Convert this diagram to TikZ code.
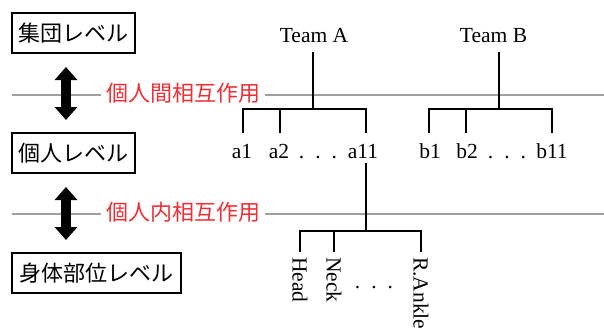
\documentclass[tikz,border=0pt]{standalone}
\usepackage{fontspec}
\setmainfont{Liberation Serif}
\newfontfamily\jp{Noto Sans CJK JP}
\usetikzlibrary{arrows.meta}
\definecolor{redtxt}{RGB}{238,48,52}
\definecolor{sepgray}{RGB}{160,160,160}
\newcommand{\tdots}{.\hspace{11pt}.\hspace{11pt}.}
\begin{document}
\begin{tikzpicture}[x=1pt,y=-1pt,
 lvl/.style={draw=black,line width=1.8pt,minimum height=40pt,inner sep=0pt,font=\jp\fontsize{22}{22}\selectfont},
 sepline/.style={draw=sepgray,line width=1.8pt},
 inter/.style={fill=white,text=redtxt,inner sep=5pt,font=\jp\fontsize{22}{22}\selectfont},
 tree/.style={line width=2.5pt},
 lab/.style={font=\fontsize{21.5}{21.5}\selectfont,anchor=base,inner sep=0pt},
 dbl/.style={line width=10pt,{Triangle[length=13pt,width=22pt]}-{Triangle[length=13pt,width=22pt]}},
 body/.style={font=\fontsize{21.5}{21.5}\selectfont,rotate=-90,anchor=west,inner sep=0pt}]
\useasboundingbox (0,0) rectangle (604,330);

% separator lines
\coordinate (s1l) at (12,95); \coordinate (s1r) at (604,95);
\coordinate (s2l) at (12,214); \coordinate (s2r) at (604,214);
\draw[sepline] (s1l) -- (s1r);
\draw[sepline] (s2l) -- (s2r);

% level boxes
\node[lvl,minimum width=123pt] (lg) at (73.5,33) {集団レベル};
\node[lvl,minimum width=123pt] (li) at (73.5,153) {個人レベル};
\node[lvl,minimum width=169pt] (lb) at (96.5,273) {身体部位レベル};

% double arrows
\coordinate (d1t) at (66,67); \coordinate (d1b) at (66,120);
\coordinate (d2t) at (66,187); \coordinate (d2b) at (66,240);
\draw[dbl] (d1t) -- (d1b);
\draw[dbl] (d2t) -- (d2b);

% interaction labels
\node[inter] (i1) at (183,93) {個人間相互作用};
\node[inter] (i2) at (183,212) {個人内相互作用};

% teams
\node[lab] (TA) at (314,42) {Team A};
\node[lab] (TB) at (493.5,42) {Team B};

% players
\node[lab] (a1) at (242,158) {a1};
\node[lab] (a2) at (279,158) {a2};
\node[lab] (adots) at (318,158) {\tdots};
\node[lab] (a11) at (363,158) {a11};
\node[lab] (b1) at (430,158) {b1};
\node[lab] (b2) at (467,158) {b2};
\node[lab] (bdots) at (507,158) {\tdots};
\node[lab] (b11) at (552,158) {b11};

% tree A
\coordinate (ta0) at (313,52); \coordinate (ta1) at (313,109);
\coordinate (pa1) at (243,133); \coordinate (pa2) at (280,133); \coordinate (pa11) at (366,133);
\draw[tree] (ta0) -- (ta1);
\draw[tree] (pa1) |- (ta1) -| (pa11);
\draw[tree] (pa2) -- (pa2 |- ta1);

% tree B
\coordinate (tb0) at (499,52); \coordinate (tb1) at (499,109);
\coordinate (pb1) at (429,133); \coordinate (pb2) at (466,133); \coordinate (pb11) at (552,133);
\draw[tree] (tb0) -- (tb1);
\draw[tree] (pb1) |- (tb1) -| (pb11);
\draw[tree] (pb2) -- (pb2 |- tb1);

% body parts
\coordinate (c0) at (366,163); \coordinate (c1) at (366,231);
\coordinate (bh) at (300,252); \coordinate (bn) at (334,252); \coordinate (br) at (421,252);
\draw[tree] (c0) -- (c1);
\draw[tree] (bh) |- (c1) -| (br);
\draw[tree] (bn) -- (bn |- c1);

\node[body] (head) at (300,257) {Head};
\node[body] (neck) at (334,257) {Neck};
\node[body] (rank) at (421,257) {R.Ankle};
\node[lab] (bdots2) at (374,288) {\tdots};
\end{tikzpicture}
\end{document}
